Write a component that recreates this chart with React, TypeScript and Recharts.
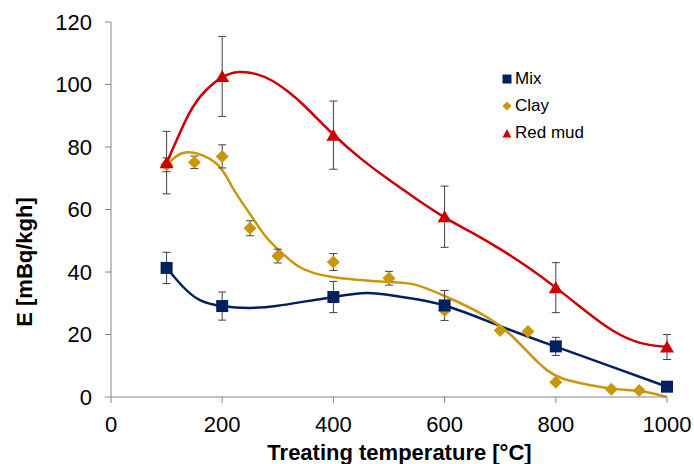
import React from 'react';
import { ComposedChart, Line, Scatter, XAxis, YAxis, ErrorBar, Legend } from 'recharts';

const FONT = '"Liberation Sans", Arial, sans-serif';

const temperatureTicks = [0, 200, 400, 600, 800, 1000];
const emissionTicks = [0, 20, 40, 60, 80, 100, 120];

const seriesNames = ['Mix', 'Clay', 'Red mud'];
const seriesColors = ['#002060', '#C9960C', '#CC0000'];

const mixPoints = [
  { x: 100, y: 41.3, err: 5 },
  { x: 200, y: 29.1, err: 4.5 },
  { x: 400, y: 32, err: 5 },
  { x: 600, y: 29.3, err: 4.8 },
  { x: 800, y: 16.2, err: 2.9 },
  { x: 1000, y: 3.3, err: null },
];

const clayPoints = [
  { x: 100, y: 74.3, err: 2.2 },
  { x: 150, y: 75.1, err: 2 },
  { x: 200, y: 77, err: 3.7 },
  { x: 250, y: 54, err: 2.4 },
  { x: 300, y: 45.1, err: 2.2 },
  { x: 400, y: 43.2, err: 2.7 },
  { x: 500, y: 38, err: 2.2 },
  { x: 600, y: 27.7, err: null },
  { x: 700, y: 21.3, err: null },
  { x: 750, y: 21, err: null },
  { x: 800, y: 4.7, err: null },
  { x: 900, y: 2.5, err: null },
  { x: 950, y: 2.1, err: null },
];

const redMudPoints = [
  { x: 100, y: 75, err: 10 },
  { x: 200, y: 102.6, err: 12.8 },
  { x: 400, y: 83.8, err: 10.9 },
  { x: 600, y: 57.7, err: 9.8 },
  { x: 800, y: 35, err: 8 },
  { x: 1000, y: 16, err: 4 },
];

const mixCurveX = [100, 130, 160, 200, 250, 300, 350, 400, 460, 520, 600, 700, 800, 900, 1000];
const mixCurveY = [41.3, 35.2, 31, 29.1, 28.5, 29.2, 30.6, 32, 33.3, 32.1, 29.3, 22.7, 16.1, 9.7, 3.3];

const clayCurveX = [100, 137, 189, 218, 249, 279, 308, 339, 398, 500, 550, 604, 663, 723, 784, 843, 903, 951, 1000];
const clayCurveY = [74.2, 78.3, 74.8, 67.2, 58.8, 51.2, 46, 41.6, 38.4, 36.8, 35.8, 32, 26.9, 19.2, 8.6, 4.5, 2.6, 1.9, 0];

const redCurveX = [100, 140, 170, 200, 230, 260, 290, 320, 350, 400, 450, 500, 550, 600, 650, 700, 750, 800, 850, 900, 950, 1000];
const redCurveY = [74.8, 90.5, 98, 102.3, 104, 103.4, 101.2, 97.5, 92.8, 84, 76.2, 69.5, 63.3, 57.5, 52.5, 47.3, 41.5, 35, 28, 21.5, 17.4, 16];

const toCurve = (xs: number[], ys: number[]) => xs.map((x, i) => ({ x, y: ys[i] }));
const mixCurve = toCurve(mixCurveX, mixCurveY);
const clayCurve = toCurve(clayCurveX, clayCurveY);
const redCurve = toCurve(redCurveX, redCurveY);

const SquareShape = (p: any) => (
  <rect x={p.cx - 6} y={p.cy - 6} width={12} height={12} fill={seriesColors[0]} />
);
const DiamondShape = (p: any) => (
  <polygon
    points={`${p.cx},${p.cy - 6.5} ${p.cx + 6.5},${p.cy} ${p.cx},${p.cy + 6.5} ${p.cx - 6.5},${p.cy}`}
    fill={seriesColors[1]}
  />
);
const TriangleShape = (p: any) => (
  <polygon
    points={`${p.cx},${p.cy - 6.5} ${p.cx + 7},${p.cy + 5.5} ${p.cx - 7},${p.cy + 5.5}`}
    fill={seriesColors[2]}
  />
);

const LegendMarker = ({ i }: { i: number }) => (
  <svg width={10} height={10} style={{ display: 'block' }}>
    {i === 0 && <rect x={0.5} y={0.5} width={9} height={9} fill={seriesColors[0]} />}
    {i === 1 && <polygon points="5,0.5 9.5,5 5,9.5 0.5,5" fill={seriesColors[1]} />}
    {i === 2 && <polygon points="5,1 9.5,9.5 0.5,9.5" fill={seriesColors[2]} />}
  </svg>
);

const LegendContent = () => (
  <div style={{ fontFamily: FONT, fontSize: 17, color: '#000' }}>
    {seriesNames.map((name, i) => (
      <div key={name} style={{ display: 'flex', alignItems: 'center', height: 27 }}>
        <div style={{ marginLeft: 2, marginRight: 3 }}>
          <LegendMarker i={i} />
        </div>
        <span style={{ lineHeight: '17px' }}>{name}</span>
      </div>
    ))}
  </div>
);

const errStyle = { stroke: '#404040', strokeWidth: 1 };

export default function App() {
  return (
    <div style={{ position: 'absolute', left: 0, top: 0, width: 694, height: 464, background: '#fff' }}>
      <ComposedChart
        width={694}
        height={464}
        margin={{ top: 22, right: 27, bottom: 27, left: 51 }}
      >
        <XAxis
          type="number"
          dataKey="x"
          domain={[0, 1000]}
          ticks={temperatureTicks}
          interval={0}
          height={40}
          tickSize={6}
          tickMargin={13}
          axisLine={{ stroke: '#868686', strokeWidth: 1 }}
          tickLine={{ stroke: '#868686', strokeWidth: 1 }}
          tick={{ fill: '#000', fontSize: 22, fontFamily: FONT }}
          label={{
            content: () => (
              <text x={399.5} y={460} textAnchor="middle" fontSize={22} fontWeight="bold" fontFamily={FONT} fill="#000">
                Treating temperature [°C]
              </text>
            ),
          }}
        />
        <YAxis
          type="number"
          dataKey="y"
          domain={[0, 120]}
          ticks={emissionTicks}
          interval={0}
          width={60}
          tickSize={6}
          tickMargin={13}
          axisLine={{ stroke: '#868686', strokeWidth: 1 }}
          tickLine={{ stroke: '#868686', strokeWidth: 1 }}
          tick={{ fill: '#000', fontSize: 22, fontFamily: FONT }}
          label={{
            content: () => (
              <text
                x={32}
                y={262}
                transform="rotate(-90 32 262)"
                textAnchor="middle"
                fontSize={22}
                fontWeight="bold"
                fontFamily={FONT}
                fill="#000"
              >
                E [mBq/kgh]
              </text>
            ),
          }}
        />
        <Legend
          layout="vertical"
          align="center"
          verticalAlign="middle"
          wrapperStyle={{ left: 500, top: 65, width: 150, height: 81 }}
          content={() => <LegendContent />}
        />
        <Line data={mixCurve} dataKey="y" type="natural" stroke={seriesColors[0]} strokeWidth={2.5} dot={false} activeDot={false} isAnimationActive={false} legendType="none" />
        <Line data={clayCurve} dataKey="y" type="natural" stroke={seriesColors[1]} strokeWidth={2.5} dot={false} activeDot={false} isAnimationActive={false} legendType="none" />
        <Line data={redCurve} dataKey="y" type="natural" stroke={seriesColors[2]} strokeWidth={2.5} dot={false} activeDot={false} isAnimationActive={false} legendType="none" />
        <Scatter name="Clay" data={clayPoints} dataKey="y" shape={(p: any) => <DiamondShape {...p} />} isAnimationActive={false}>
          <ErrorBar dataKey="err" direction="y" width={4} {...errStyle} />
        </Scatter>
        <Scatter name="Mix" data={mixPoints} dataKey="y" shape={(p: any) => <SquareShape {...p} />} isAnimationActive={false}>
          <ErrorBar dataKey="err" direction="y" width={4} {...errStyle} />
        </Scatter>
        <Scatter name="Red mud" data={redMudPoints} dataKey="y" shape={(p: any) => <TriangleShape {...p} />} isAnimationActive={false}>
          <ErrorBar dataKey="err" direction="y" width={4} {...errStyle} />
        </Scatter>
      </ComposedChart>
    </div>
  );
}
